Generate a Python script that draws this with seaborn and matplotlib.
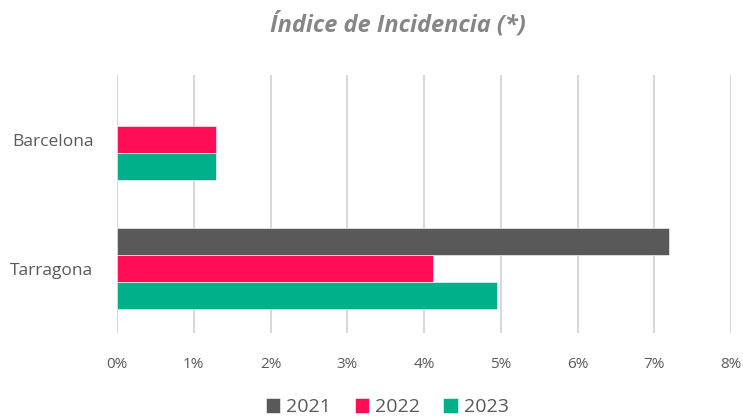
import matplotlib
matplotlib.use('Agg')
import matplotlib.pyplot as plt
import seaborn as sns
import pandas as pd
import numpy as np

# Data (percent)
provinces = ['Barcelona', 'Tarragona']
years = ['2021', '2022', '2023']
val_2021 = [np.nan, 7.19]
val_2022 = [1.29, 4.12]
val_2023 = [1.29, 4.95]

rows = []
for yr, vals in zip(years, [val_2021, val_2022, val_2023]):
    for prov, v in zip(provinces, vals):
        rows.append({'Provincia': prov, 'Año': yr, 'Valor': v})
df = pd.DataFrame(rows)

colors = {'2021': '#595959', '2022': '#FF0D57', '2023': '#00B08A'}

sns.set_style('white')
plt.rcParams['font.family'] = ['Open Sans', 'DejaVu Sans']

fig = plt.figure(figsize=(7.43, 4.17), dpi=100)
ax = fig.add_axes([0.1575, 0.2014, 0.8265, 0.6186])

sns.barplot(data=df, y='Provincia', x='Valor', hue='Año', order=provinces,
            hue_order=years, palette=colors, orient='h', width=0.628,
            errorbar=None, ax=ax, saturation=1, zorder=3,
            edgecolor='white', linewidth=0.4)

ax.set_xlim(0, 8)
ax.set_ylim(1.5, -0.5)
ax.set_xticks(range(0, 9))
ax.set_xticklabels([f'{i}%' for i in range(0, 9)])
ax.grid(axis='x', color='#D9D9D9', linewidth=1.5, zorder=0)
ax.set_axisbelow(True)
for s in ax.spines.values():
    s.set_visible(False)
ax.tick_params(axis='both', length=0, colors='#595959')
ax.tick_params(axis='x', pad=17, labelsize=11)
ax.tick_params(axis='y', pad=17, labelsize=12.5)
ax.set_xlabel('')
ax.set_ylabel('')

ax.legend(loc='upper center', bbox_to_anchor=(0.44, -0.185), ncol=3, frameon=False,
          handlelength=0.75, handleheight=0.75, handletextpad=0.3, columnspacing=1.2,
          fontsize=14, labelcolor='#595959')

fig.text(0.535, 0.94, 'Índice de Incidencia (*)', ha='center', va='center',
         fontsize=17, fontstyle='italic', fontweight='bold', color='#868686')

fig.savefig('out.png', dpi=100)
